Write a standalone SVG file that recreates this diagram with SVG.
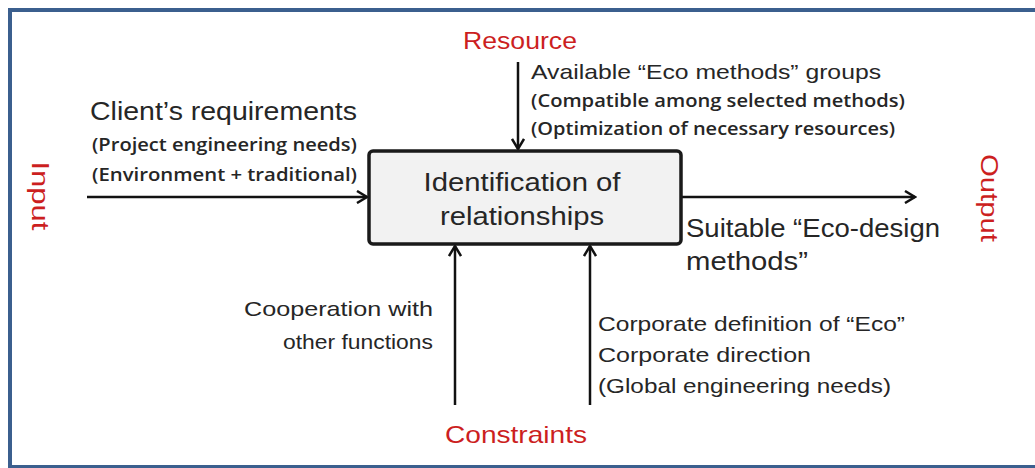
<svg xmlns="http://www.w3.org/2000/svg" width="1035" height="468" viewBox="0 0 1035 468">
<style>
text{font-family:"Liberation Sans",Arial,sans-serif;fill:#262626}
.red{fill:#cc1f1f;font-size:24px}
.main{font-size:26px}
.sub{font-size:21px}
.par{font-family:"Open Sans","Liberation Sans",Arial,sans-serif;font-size:18px;font-weight:600}
.box{font-size:26px}
.conn{stroke:#111;stroke-width:2.5;fill:none;marker-end:url(#arr)}
</style>
<defs>
<marker id="arr" markerWidth="14" markerHeight="14" viewBox="0 0 14 14" refX="12" refY="7" orient="auto" markerUnits="userSpaceOnUse">
<path d="M2,1 L12,7 L2,13" fill="none" stroke="#111" stroke-width="2.5"/>
</marker>
</defs>
<rect width="1035" height="468" fill="#fff"/>
<rect x="10" y="10" width="1040" height="457" fill="none" stroke="#3b5f8e" stroke-width="4"/>
<g id="connectors">
<line class="conn" x1="87" y1="197" x2="367" y2="197"/>
<line class="conn" x1="682" y1="197" x2="915" y2="197"/>
<line class="conn" x1="518" y1="62" x2="518" y2="149"/>
<line class="conn" x1="455" y1="405" x2="455" y2="246"/>
<line class="conn" x1="590" y1="405" x2="590" y2="246"/>
</g>
<g id="process">
<rect x="369" y="151" width="312" height="93" rx="4" fill="#f2f2f2" stroke="#1a1a1a" stroke-width="3.5"/>
<text class="box" x="522" y="191" text-anchor="middle" textLength="197" lengthAdjust="spacingAndGlyphs">Identification of</text>
<text class="box" x="522" y="225" text-anchor="middle" textLength="164" lengthAdjust="spacingAndGlyphs">relationships</text>
</g>
<g id="input">
<text class="red" transform="translate(40,196) rotate(90)" text-anchor="middle" y="8" textLength="69" lengthAdjust="spacingAndGlyphs">Input</text>
<text class="main" x="90" y="120" textLength="267" lengthAdjust="spacingAndGlyphs">Client’s requirements</text>
<text class="par" x="92" y="151" textLength="265" lengthAdjust="spacingAndGlyphs">(Project engineering needs)</text>
<text class="par" x="92" y="181" textLength="265" lengthAdjust="spacingAndGlyphs">(Environment + traditional)</text>
</g>
<g id="resource">
<text class="red" x="520" y="49" text-anchor="middle" textLength="114" lengthAdjust="spacingAndGlyphs">Resource</text>
<text class="sub" x="531" y="79" textLength="350" lengthAdjust="spacingAndGlyphs">Available “Eco methods”  groups</text>
<text class="par" x="531" y="107" textLength="374" lengthAdjust="spacingAndGlyphs">(Compatible among selected methods)</text>
<text class="par" x="531" y="135" textLength="364" lengthAdjust="spacingAndGlyphs">(Optimization of necessary resources)</text>
</g>
<g id="output">
<text class="red" transform="translate(989,198) rotate(90)" text-anchor="middle" y="8" textLength="88" lengthAdjust="spacingAndGlyphs">Output</text>
<text class="main" x="686" y="237" textLength="254" lengthAdjust="spacingAndGlyphs">Suitable “Eco-design</text>
<text class="main" x="686" y="270" textLength="122" lengthAdjust="spacingAndGlyphs">methods”</text>
</g>
<g id="constraints">
<text class="red" x="516" y="443" text-anchor="middle" textLength="142" lengthAdjust="spacingAndGlyphs">Constraints</text>
<text class="sub" x="433" y="316" text-anchor="end" textLength="189" lengthAdjust="spacingAndGlyphs">Cooperation with</text>
<text class="sub" x="433" y="349" text-anchor="end" textLength="150" lengthAdjust="spacingAndGlyphs">other functions</text>
<text class="sub" x="598" y="331" textLength="307" lengthAdjust="spacingAndGlyphs">Corporate definition of “Eco”</text>
<text class="sub" x="598" y="362" textLength="213" lengthAdjust="spacingAndGlyphs">Corporate direction</text>
<text class="sub" x="598" y="393" textLength="293" lengthAdjust="spacingAndGlyphs">(Global engineering  needs)</text>
</g>
</svg>
